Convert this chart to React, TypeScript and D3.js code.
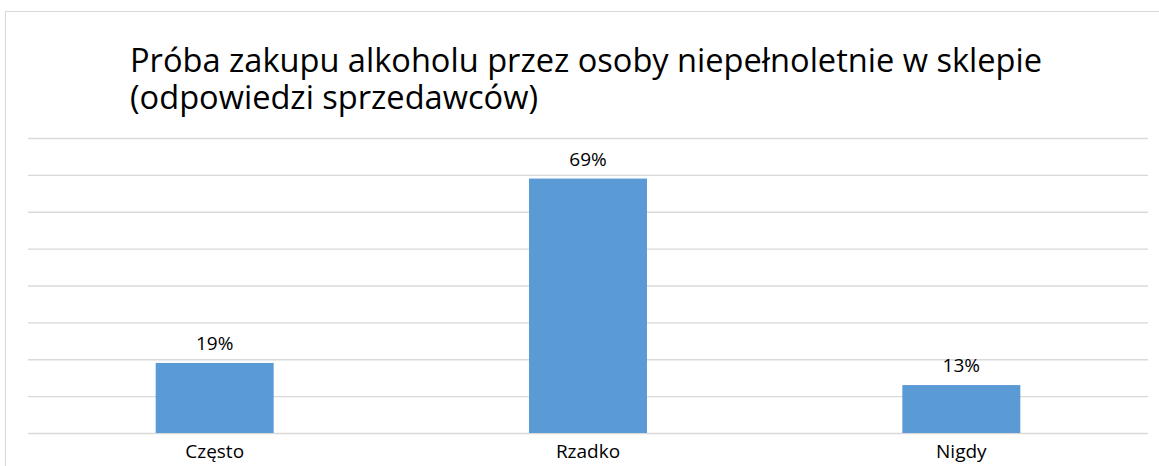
import { useRef, useEffect } from 'react'
import * as d3 from 'd3'

const categories = ['Często', 'Rzadko', 'Nigdy']
const values = [0.19, 0.69, 0.13]
const valueLabels = ['19%', '69%', '13%']
const yTicks = [0, 0.1, 0.2, 0.3, 0.4, 0.5, 0.6, 0.7, 0.8]
const titleLines = [
  'Próba zakupu alkoholu przez osoby niepełnoletnie w sklepie',
  '(odpowiedzi sprzedawców)',
]

const W = 1159
const H = 466
const FONT = '"Open Sans", "Noto Sans", sans-serif'

export default function App() {
  const svgRef = useRef<SVGSVGElement>(null)

  useEffect(() => {
    if (!svgRef.current) return
    const svg = d3.select(svgRef.current)
    svg.selectAll('*').remove()

    const margin = { top: 138, right: 11, bottom: 33, left: 28 }
    const width = W - margin.left - margin.right
    const height = H - margin.top - margin.bottom

    // chart frame (runs off the right/bottom edge like the screenshot)
    svg.append('rect')
      .attr('x', 5.5).attr('y', 11.5)
      .attr('width', W + 10).attr('height', H + 10)
      .attr('fill', '#fff').attr('stroke', '#d9d9d9').attr('stroke-width', 1)

    // title, two lines
    titleLines.forEach((t, i) => {
      svg.append('text')
        .attr('x', 130)
        .attr('y', 72 + i * 37)
        .attr('font-family', FONT)
        .attr('font-size', '32.6px')
        .attr('fill', '#000')
        .text(t)
    })

    const g = svg.append('g').attr('transform', `translate(${margin.left},${margin.top})`)

    const x = d3.scaleBand<string>()
      .domain(categories)
      .range([0, width])
      .paddingInner(0.684)
      .paddingOuter(0.342)

    const y = d3.scaleLinear().domain([0, 0.8]).range([height, 0])

    // gridlines
    g.append('g')
      .call(d3.axisLeft(y).tickValues(yTicks).tickSize(-width).tickFormat(() => ''))
      .call((a) => {
        a.select('.domain').remove()
        a.selectAll('.tick line').attr('stroke', '#d9d9d9').attr('stroke-width', 1.3)
      })

    // bars
    g.selectAll('rect.bar')
      .data(values)
      .join('rect')
      .attr('class', 'bar')
      .attr('x', (_, i) => x(categories[i])!)
      .attr('y', (d) => y(d))
      .attr('width', x.bandwidth())
      .attr('height', (d) => height - y(d))
      .attr('fill', '#5b9bd5')

    // data labels
    g.selectAll('text.val')
      .data(values)
      .join('text')
      .attr('class', 'val')
      .attr('x', (_, i) => x(categories[i])! + x.bandwidth() / 2)
      .attr('y', (d) => y(d) - 13)
      .attr('text-anchor', 'middle')
      .attr('font-family', FONT)
      .attr('font-size', '19px')
      .attr('fill', '#000')
      .text((_, i) => valueLabels[i])

    // x axis labels
    g.append('g')
      .attr('transform', `translate(0,${height})`)
      .call(d3.axisBottom(x).tickSize(0).tickPadding(11.5))
      .call((a) => {
        a.select('.domain').remove()
        a.selectAll('.tick text')
          .attr('font-family', FONT)
          .attr('font-size', '19px')
          .attr('fill', '#000')
      })
  }, [])

  return (
    <div style={{ position: 'absolute', left: 0, top: 0 }}>
      <svg ref={svgRef} width={W} height={H} style={{ display: 'block' }} />
    </div>
  )
}
